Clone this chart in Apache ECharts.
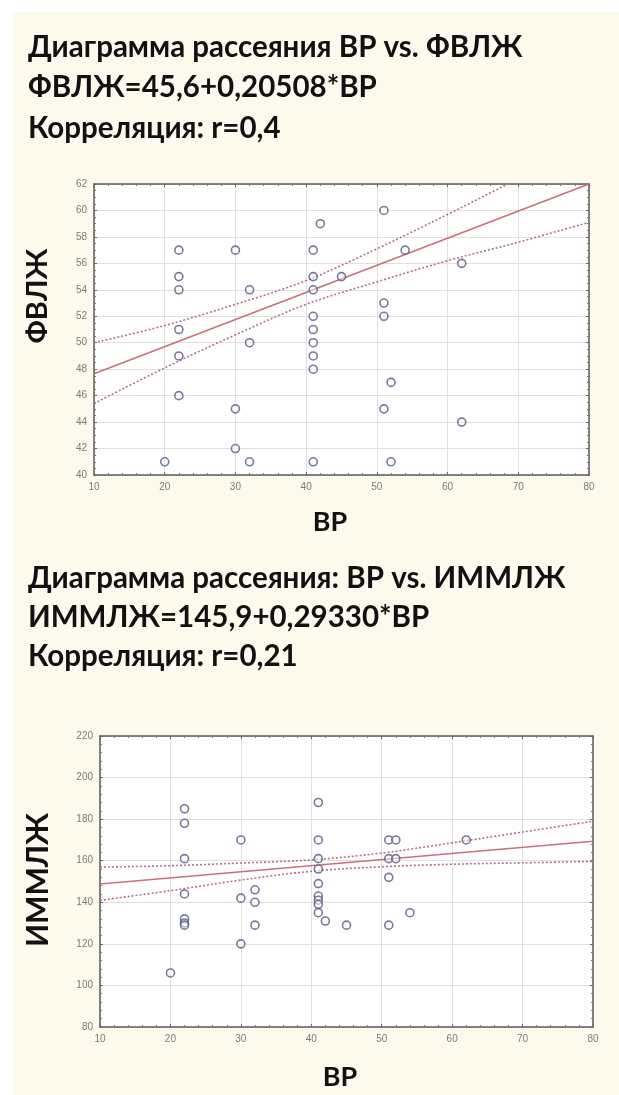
<!DOCTYPE html>
<html>
<head>
<meta charset="utf-8">
<script src="https://cdn.jsdelivr.net/npm/echarts@6/dist/echarts.min.js"></script>
<style>
  html, body { margin: 0; padding: 0; background: #ffffff; overflow: hidden; }
  #bg { position: absolute; left: 13px; top: 12px; width: 606px; height: 1083px; background: #fdf9ec; }
  #chart { position: absolute; left: 0; top: 0; width: 619px; height: 1095px; }
</style>
</head>
<body>
<div id="bg"></div>
<div id="chart"></div>
<script>
// ---------- DATA ----------
// Chart 1: ВР vs ФВЛЖ
const topX = [20, 22, 22, 22, 22, 22, 22, 30, 30, 30, 32, 32, 32,
              41, 41, 41, 41, 41, 41, 41, 41, 41, 42, 45, 51, 51, 51, 51, 52, 52, 54, 62, 62];
const topY = [41, 57, 55, 54, 51, 49, 46, 57, 45, 42, 54, 50, 41,
              57, 55, 54, 52, 51, 50, 49, 48, 41, 59, 55, 60, 53, 52, 45, 47, 41, 57, 56, 44];
const topFitX = [10, 80];
const topFitY = [47.65, 62.0];
const bandX = [10, 20, 30, 40, 50, 60, 70, 80];
const topUpper = [50.0, 51.3, 52.9, 54.7, 57.1, 59.7, 62.4, 65.1];
const topLower = [45.4, 48.1, 50.6, 52.9, 54.6, 56.2, 57.6, 59.1];

// Chart 2: ВР vs ИММЛЖ
const botX = [20, 22, 22, 22, 22, 22, 22, 22, 30, 30, 30, 32, 32, 32,
              41, 41, 41, 41, 41, 41, 41, 41, 41, 42, 45, 51, 51, 51, 51, 52, 52, 54, 62];
const botY = [106, 185, 178, 161, 144, 132, 130, 129, 170, 142, 120, 146, 140, 129,
              188, 170, 161, 156, 149, 143, 141, 139, 135, 131, 129, 170, 161, 152, 129, 170, 161, 135, 170];
const botFitX = [10, 80];
const botFitY = [148.8, 169.4];
const botUpper = [156.9, 157.6, 158.9, 160.4, 163.7, 168.6, 173.8, 179.0];
const botLower = [140.9, 145.6, 150.7, 154.9, 157.1, 158.3, 159.0, 159.7];

const xTicks = [10, 20, 30, 40, 50, 60, 70, 80];

const titles1 = ['Диаграмма рассеяния ВР vs. ФВЛЖ', 'ФВЛЖ=45,6+0,20508*ВР', 'Корреляция: r=0,4'];
const titles2 = ['Диаграмма рассеяния: ВР vs. ИММЛЖ', 'ИММЛЖ=145,9+0,29330*ВР', 'Корреляция: r=0,21'];
const xName = 'ВР';
const yName1 = 'ФВЛЖ';
const yName2 = 'ИММЛЖ';

// ---------- CHART ----------
const zip = (a, b) => a.map((v, i) => [v, b[i]]);
const chart = echarts.init(document.getElementById('chart'), null, { renderer: 'canvas' });

const labelStyle = { color: '#7a7a7a', fontSize: 10, fontFamily: 'Liberation Sans, Arial, sans-serif' };
const frameLine = { show: true, lineStyle: { color: '#5c5c5c', width: 1.5 } };

function mainX(gi) {
  return {
    type: 'value', gridIndex: gi, min: 10, max: 80, interval: 10, position: 'bottom',
    axisLine: frameLine,
    axisTick: { show: true, inside: true, length: 3, lineStyle: { color: '#666' } },
    minorTick: { show: true, splitNumber: 5, length: 2, lineStyle: { color: '#777' } },
    axisLabel: Object.assign({ margin: 7 }, labelStyle),
    splitLine: { show: true, lineStyle: { color: '#e0e0e0', width: 1 } }
  };
}
function frameX(gi) {
  return {
    type: 'value', gridIndex: gi, min: 10, max: 80, interval: 10, position: 'top',
    axisLine: frameLine,
    axisTick: { show: true, inside: true, length: 3, lineStyle: { color: '#666' } },
    minorTick: { show: true, splitNumber: 5, length: 2, lineStyle: { color: '#777' } },
    axisLabel: { show: false }, splitLine: { show: false }
  };
}
function mainY(gi, min, max, interval, minorSplit) {
  return {
    type: 'value', gridIndex: gi, min: min, max: max, interval: interval, position: 'left',
    axisLine: frameLine,
    axisTick: { show: true, inside: true, length: 3, lineStyle: { color: '#666' } },
    minorTick: { show: true, splitNumber: minorSplit, length: 2, lineStyle: { color: '#777' } },
    axisLabel: Object.assign({ margin: 7 }, labelStyle),
    splitLine: { show: true, lineStyle: { color: '#e0e0e0', width: 1 } }
  };
}
function frameY(gi, min, max, interval, minorSplit) {
  return {
    type: 'value', gridIndex: gi, min: min, max: max, interval: interval, position: 'right',
    axisLine: frameLine,
    axisTick: { show: true, inside: true, length: 3, lineStyle: { color: '#666' } },
    minorTick: { show: true, splitNumber: minorSplit, length: 2, lineStyle: { color: '#777' } },
    axisLabel: { show: false }, splitLine: { show: false }
  };
}

const pointStyle = { color: 'rgba(255,255,255,0.6)', borderColor: '#55587f', borderWidth: 1.6 };
const fitStyle = { color: '#c9707a', width: 1.6, type: 'solid' };
const bandStyle = { color: '#b0708c', width: 1.6, type: [2, 2] };

function seriesFor(gi, xs, ys, fx, fy, up, lo) {
  const xi = gi * 2, yi = gi * 2;
  return [
    { type: 'line', xAxisIndex: xi, yAxisIndex: yi, data: zip(bandX, up), smooth: 0.35, symbol: 'none',
      lineStyle: bandStyle, z: 2, clip: true, silent: true },
    { type: 'line', xAxisIndex: xi, yAxisIndex: yi, data: zip(bandX, lo), smooth: 0.35, symbol: 'none',
      lineStyle: bandStyle, z: 2, clip: true, silent: true },
    { type: 'line', xAxisIndex: xi, yAxisIndex: yi, data: zip(fx, fy), symbol: 'none',
      lineStyle: fitStyle, z: 3, clip: true, silent: true },
    { type: 'scatter', xAxisIndex: xi, yAxisIndex: yi, data: zip(xs, ys), symbol: 'circle', symbolSize: 8,
      itemStyle: pointStyle, z: 4 }
  ];
}

const titleFont = 'bold 29.5px Lato, "Open Sans", sans-serif';
const graphics = [];
[[titles1, [47, 87, 128]], [titles2, [578, 617, 656]]].forEach(([arr, ys]) => {
  arr.forEach((t, i) => graphics.push({
    type: 'text', x: 28, y: ys[i],
    style: { text: t, fill: '#111', font: titleFont, verticalAlign: 'middle', align: 'left' }
  }));
});
graphics.push({ type: 'text', x: 330, y: 522, style: { text: xName, fill: '#111', font: 'bold 27px Lato, sans-serif', align: 'center', verticalAlign: 'middle' } });
graphics.push({ type: 'text', x: 340, y: 1077, style: { text: xName, fill: '#111', font: 'bold 27px Lato, sans-serif', align: 'center', verticalAlign: 'middle' } });
graphics.push({ type: 'text', x: 38, y: 296, rotation: Math.PI / 2, style: { text: yName1, fill: '#111', font: 'bold 29px Lato, sans-serif', align: 'center', verticalAlign: 'middle' } });
graphics.push({ type: 'text', x: 38, y: 880, rotation: Math.PI / 2, style: { text: yName2, fill: '#111', font: 'bold 30px Lato, sans-serif', align: 'center', verticalAlign: 'middle' } });

chart.setOption({
  backgroundColor: 'transparent',
  animation: false,
  grid: [
    { left: 94, top: 184, width: 495, height: 291, show: true, backgroundColor: '#ffffff', borderWidth: 0 },
    { left: 100, top: 736, width: 493, height: 291, show: true, backgroundColor: '#ffffff', borderWidth: 0 }
  ],
  xAxis: [mainX(0), frameX(0), mainX(1), frameX(1)],
  yAxis: [mainY(0, 40, 62, 2, 4), frameY(0, 40, 62, 2, 4), mainY(1, 80, 220, 20, 5), frameY(1, 80, 220, 20, 5)],
  series: [].concat(
    seriesFor(0, topX, topY, topFitX, topFitY, topUpper, topLower),
    seriesFor(1, botX, botY, botFitX, botFitY, botUpper, botLower)
  ),
  graphic: graphics
});
</script>
</body>
</html>
